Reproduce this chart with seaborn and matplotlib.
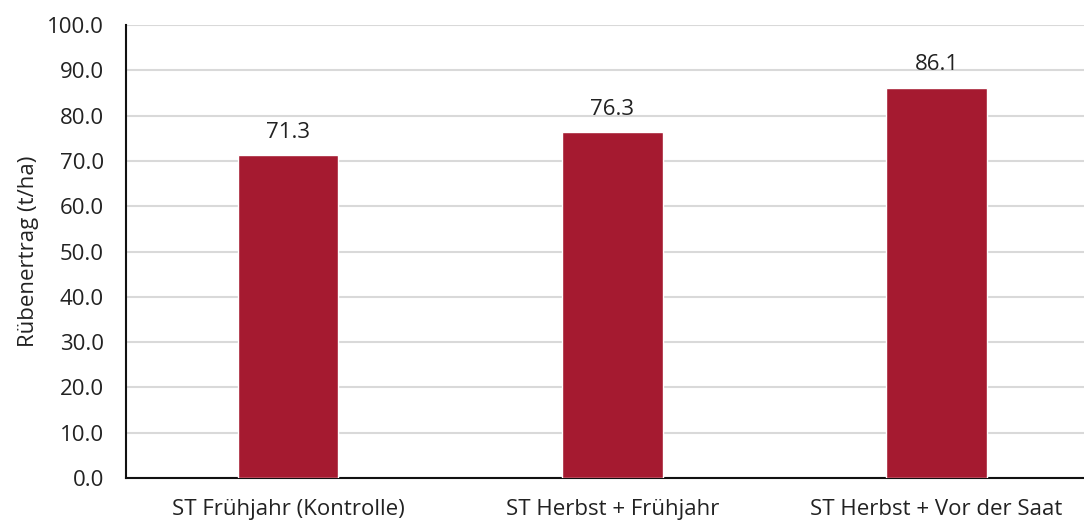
import pandas as pd
import matplotlib.pyplot as plt
import seaborn as sns

# Daten aus der Grafik
behandlung = ['ST Frühjahr (Kontrolle)', 'ST Herbst + Frühjahr', 'ST Herbst + Vor der Saat']
ertrag = [71.3, 76.3, 86.1]
y_ticks = [0, 10, 20, 30, 40, 50, 60, 70, 80, 90, 100]

df = pd.DataFrame({'behandlung': behandlung, 'ertrag': ertrag})

sns.set_style('white')
plt.rcParams['font.family'] = ['Open Sans', 'DejaVu Sans']

fig = plt.figure(figsize=(10.84, 5.22), dpi=100)
ax = fig.add_axes([126 / 1084, 44 / 522, 1 - 126 / 1084, 453 / 522])

sns.barplot(data=df, x='behandlung', y='ertrag', color='#A51A30',
            width=0.31, saturation=1, ax=ax, zorder=3)

for i, v in enumerate(ertrag):
    ax.annotate(f'{v:.1f}', (i, v), xytext=(0, 9), textcoords='offset points',
                ha='center', va='bottom', fontsize=16, color='#222222')

ax.set_ylim(0, 100)
ax.set_xlim(-0.5, 2.455)
ax.set_yticks(y_ticks)
ax.set_yticklabels([f'{t:.1f}' for t in y_ticks])
ax.yaxis.grid(True, color='#d9d9d9', linewidth=1.5, zorder=0)
ax.set_axisbelow(True)
ax.tick_params(axis='both', length=0, labelsize=16, colors='#222222')
ax.tick_params(axis='y', pad=16)
ax.tick_params(axis='x', pad=15)

for side in ['top', 'right']:
    ax.spines[side].set_visible(False)
for side in ['left', 'bottom']:
    ax.spines[side].set_color('#111111')
    ax.spines[side].set_linewidth(1.5)

ax.set_xlabel('')
ax.set_ylabel('Rübenertrag (t/ha)', fontsize=16, color='#222222', labelpad=6)

fig.savefig('out.png', dpi=100)
